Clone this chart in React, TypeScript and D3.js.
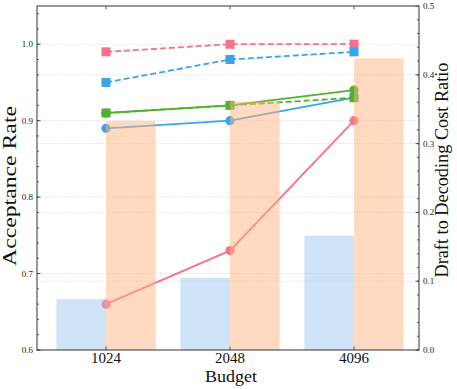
import React from 'react';
import * as d3 from 'd3';

// budgets on the x axis
const budgets = ['1024', '2048', '4096'];

// bars, right axis (draft to decoding cost ratio)
const costRatioBlue = [0.074, 0.105, 0.166];
const costRatioOrange = [0.333, 0.361, 0.424];

// lines, left axis (acceptance rate)
const pinkSolid = [0.66, 0.73, 0.9];
const blueSolid = [0.89, 0.9, 0.93];
const greenSolid = [0.91, 0.92, 0.94];
const pinkDashed = [0.99, 1.0, 1.0];
const blueDashed = [0.95, 0.98, 0.99];
const greenDashed = [0.91, 0.92, 0.93];

const PINK = '#f77189';
const BLUE = '#3ba3ec';
const GREEN = '#50b131';

const W = 457;
const H = 389;
const plot = { left: 37, right: 419, top: 6, bottom: 350 };
const FONT = '"Liberation Serif", "DejaVu Serif", serif';

const App = () => {
  const x = d3.scalePoint<string>().domain(budgets).range([106, 354]);
  const step = x.step();
  const barW = step * 0.4;

  const yLeft = d3.scaleLinear().domain([0.6, 1.05]).range([plot.bottom, plot.top]);
  const yRight = d3.scaleLinear().domain([0, 0.5]).range([plot.bottom, plot.top]);

  const leftMajor = d3.range(0.6, 1.001, 0.1);
  const leftMinor = d3.range(0.6, 1.05, 0.02);
  const rightMajor = d3.range(0, 0.501, 0.1);
  const rightMinor = d3.range(0, 0.5, 0.02);
  const fmt = d3.format('.1f');

  const lines = [
    { data: pinkSolid, color: PINK, dashed: false },
    { data: blueSolid, color: BLUE, dashed: false },
    { data: greenSolid, color: GREEN, dashed: false },
    { data: pinkDashed, color: PINK, dashed: true },
    { data: blueDashed, color: BLUE, dashed: true },
    { data: greenDashed, color: GREEN, dashed: true },
  ];

  const line = d3.line<number>()
    .x((d, i) => x(budgets[i]) as number)
    .y(d => yLeft(d));

  return (
    <svg width={W} height={H} style={{ position: 'absolute', left: 0, top: 0, background: 'white' }}>
      {/* grid */}
      <g stroke="#c8c8c8" strokeWidth={0.6} strokeDasharray="1.5,1.5">
        {leftMajor.slice(1).map(v => (
          <line key={'gl' + v} x1={plot.left} x2={plot.right} y1={yLeft(v)} y2={yLeft(v)} />
        ))}
        {rightMajor.slice(1, -1).map(v => (
          <line key={'gr' + v} x1={plot.left} x2={plot.right} y1={yRight(v)} y2={yRight(v)} />
        ))}
      </g>

      {/* acceptance rate lines */}
      {lines.map((s, k) => (
        <g key={k}>
          <path d={line(s.data) || ''} fill="none" stroke={s.color} strokeWidth={1.8}
            strokeDasharray={s.dashed ? '6,3' : undefined} />
          {s.data.map((v, i) => s.dashed ? (
            <rect key={i} x={(x(budgets[i]) as number) - 4.5} y={yLeft(v) - 4.5} width={9} height={9} fill={s.color} />
          ) : (
            <circle key={i} cx={x(budgets[i]) as number} cy={yLeft(v)} r={4.6} fill={s.color} />
          ))}
        </g>
      ))}

      {/* cost ratio bars, drawn on top with alpha */}
      {costRatioBlue.map((v, i) => (
        <rect key={'b' + i} x={(x(budgets[i]) as number) - barW} y={yRight(v)} width={barW}
          height={yRight(0) - yRight(v)} fill="#a1c9f4" fillOpacity={0.5} />
      ))}
      {costRatioOrange.map((v, i) => (
        <rect key={'o' + i} x={x(budgets[i]) as number} y={yRight(v)} width={barW}
          height={yRight(0) - yRight(v)} fill="#ffb482" fillOpacity={0.5} />
      ))}

      {/* frame */}
      <rect x={plot.left} y={plot.top} width={plot.right - plot.left} height={plot.bottom - plot.top}
        fill="none" stroke="#333" strokeWidth={1} />

      {/* ticks, pointing inward */}
      <g stroke="#333" strokeWidth={0.8}>
        {leftMinor.map(v => (
          <line key={'lm' + v} x1={plot.left} x2={plot.left + 2} y1={yLeft(v)} y2={yLeft(v)} />
        ))}
        {leftMajor.map(v => (
          <line key={'lM' + v} x1={plot.left} x2={plot.left + 3.5} y1={yLeft(v)} y2={yLeft(v)} />
        ))}
        {rightMinor.map(v => (
          <line key={'rm' + v} x1={plot.right} x2={plot.right - 2} y1={yRight(v)} y2={yRight(v)} />
        ))}
        {rightMajor.map(v => (
          <line key={'rM' + v} x1={plot.right} x2={plot.right - 3.5} y1={yRight(v)} y2={yRight(v)} />
        ))}
        {budgets.map(b => (
          <g key={'xt' + b}>
            <line x1={x(b) as number} x2={x(b) as number} y1={plot.bottom} y2={plot.bottom - 3.5} />
            <line x1={x(b) as number} x2={x(b) as number} y1={plot.top} y2={plot.top + 3.5} />
          </g>
        ))}
      </g>

      {/* tick labels */}
      <g fontFamily={FONT} fontSize={9} fill="#222">
        {leftMajor.map(v => (
          <text key={'ll' + v} x={plot.left - 4} y={yLeft(v) + 3} textAnchor="end">{fmt(v)}</text>
        ))}
        {rightMajor.map(v => (
          <text key={'rl' + v} x={plot.right + 4} y={yRight(v) + 3}>{fmt(v)}</text>
        ))}
      </g>
      <g fontFamily={FONT} fontSize={15} fill="#111">
        {budgets.map(b => (
          <text key={'xl' + b} x={x(b) as number} y={363} textAnchor="middle">{b}</text>
        ))}
      </g>

      {/* axis titles */}
      <g fontFamily={FONT} fill="#111">
        <text x={231} y={382} fontSize={16} textAnchor="middle" textLength={52}
          lengthAdjust="spacingAndGlyphs">Budget</text>
        <text transform="translate(16,186) rotate(-90)" fontSize={19} textAnchor="middle" textLength={160}
          lengthAdjust="spacingAndGlyphs">Acceptance Rate</text>
        <text transform="translate(448,170) rotate(-90)" fontSize={19} textAnchor="middle" textLength={215}
          lengthAdjust="spacingAndGlyphs">Draft to Decoding Cost Ratio</text>
      </g>
    </svg>
  );
};

export default App;
